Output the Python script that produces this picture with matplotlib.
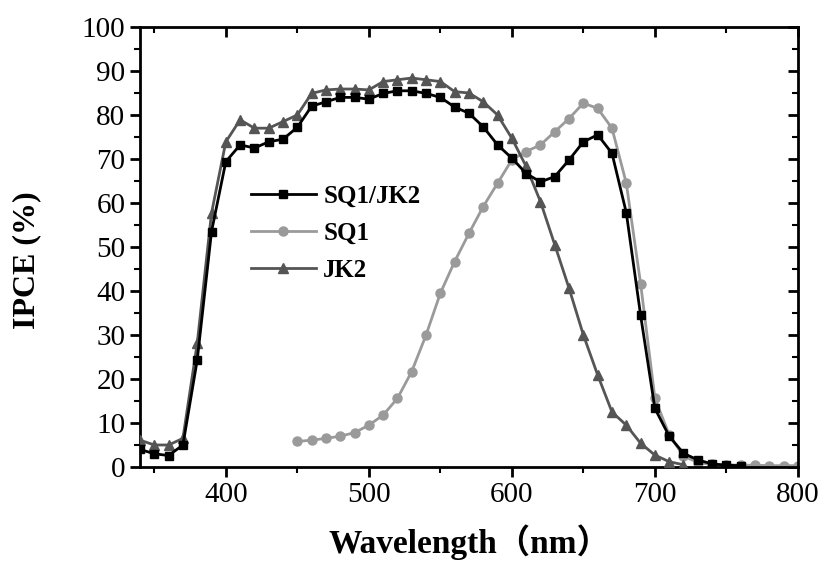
import numpy as np
import matplotlib.pyplot as plt
from matplotlib.ticker import MultipleLocator

# wavelength grids (nm)
wl_sq1jk2 = [340, 350, 360, 370, 380, 390, 400, 410, 420, 430, 440, 450, 460, 470, 480, 490, 500,
             510, 520, 530, 540, 550, 560, 570, 580, 590, 600, 610, 620, 630, 640, 650, 660, 670,
             680, 690, 700, 710, 720, 730, 740, 750, 760]
ipce_sq1jk2 = [4.0, 3.0, 2.6, 5.0, 24.3, 53.5, 69.4, 73.2, 72.5, 73.9, 74.5, 77.2, 82.0, 83.0, 84.0,
               84.0, 83.6, 84.9, 85.5, 85.5, 84.9, 84.0, 81.8, 80.4, 77.3, 73.2, 70.2, 66.7, 64.8,
               66.0, 69.8, 73.9, 75.5, 71.3, 57.8, 34.5, 13.3, 7.0, 3.1, 1.6, 0.7, 0.4, 0.3]

wl_sq1 = [450, 460, 470, 480, 490, 500, 510, 520, 530, 540, 550, 560, 570, 580, 590, 600, 610, 620,
          630, 640, 650, 660, 670, 680, 690, 700, 710, 720, 730, 740, 750, 760, 770, 780, 790, 800]
ipce_sq1 = [5.8, 6.1, 6.5, 7.0, 7.8, 9.5, 11.8, 15.6, 21.7, 30.0, 39.5, 46.7, 53.1, 59.2, 64.5, 69.8,
            71.7, 73.2, 76.2, 79.2, 82.7, 81.5, 77.0, 64.5, 41.7, 15.6, 7.3, 2.5, 1.0, 0.6, 0.5, 0.4,
            0.4, 0.3, 0.3, 0.3]

wl_jk2 = [340, 350, 360, 370, 380, 390, 400, 410, 420, 430, 440, 450, 460, 470, 480, 490, 500, 510,
          520, 530, 540, 550, 560, 570, 580, 590, 600, 610, 620, 630, 640, 650, 660, 670, 680, 690,
          700, 710, 720]
ipce_jk2 = [6.1, 5.0, 5.0, 6.5, 28.1, 57.7, 73.9, 78.9, 77.0, 77.0, 78.5, 80.0, 84.9, 85.7, 85.9,
            85.9, 85.7, 87.6, 88.0, 88.4, 88.0, 87.6, 85.3, 85.0, 83.0, 80.0, 74.7, 68.3, 60.3, 50.5,
            40.6, 30.0, 20.9, 12.5, 9.5, 5.4, 2.7, 1.2, 0.5]

plt.rcParams['font.family'] = ['Liberation Serif', 'Noto Sans CJK SC', 'DejaVu Serif']

fig = plt.figure(figsize=(8.26, 5.67), dpi=100)
ax = fig.add_axes([0.1695, 0.1764, 0.7965, 0.7760])

ax.plot(wl_sq1, ipce_sq1, color='#9a9a9a', lw=2, marker='o', ms=6.5, label='SQ1', zorder=2)
ax.plot(wl_jk2, ipce_jk2, color='#555555', lw=2, marker='^', ms=6.5, label='JK2', zorder=3)
ax.plot(wl_sq1jk2, ipce_sq1jk2, color='black', lw=2, marker='s', ms=6, label='SQ1/JK2', zorder=4)

ax.set_xlim(340, 800)
ax.set_ylim(0, 100)
ax.xaxis.set_major_locator(MultipleLocator(100))
ax.xaxis.set_minor_locator(MultipleLocator(50))
ax.yaxis.set_major_locator(MultipleLocator(10))
ax.yaxis.set_minor_locator(MultipleLocator(5))

for s in ax.spines.values():
    s.set_linewidth(2)
ax.tick_params(which='major', direction='out', length=7, width=2, labelsize=21)
ax.tick_params(which='minor', direction='out', length=4, width=1.5)

# mirrored ticks on top / right pointing inward
top = ax.secondary_xaxis('top')
top.xaxis.set_major_locator(MultipleLocator(100))
top.xaxis.set_minor_locator(MultipleLocator(50))
top.tick_params(which='major', direction='in', length=7, width=2, labeltop=False)
top.tick_params(which='minor', direction='in', length=4, width=1.5)
right = ax.secondary_yaxis('right')
right.yaxis.set_major_locator(MultipleLocator(10))
right.yaxis.set_minor_locator(MultipleLocator(5))
right.tick_params(which='major', direction='in', length=7, width=2, labelright=False)
right.tick_params(which='minor', direction='in', length=4, width=1.5)

ax.set_xlabel('Wavelength（nm）', fontsize=24, fontweight='bold')
ax.xaxis.set_label_coords(0.5, -0.13)
ax.set_ylabel('IPCE (%)', fontsize=23, fontweight='bold')
ax.yaxis.set_label_coords(-0.15, 0.47)

h, l = ax.get_legend_handles_labels()
order = [2, 0, 1]
ax.legend([h[i] for i in order], [l[i] for i in order], loc='upper left',
          bbox_to_anchor=(0.134, 0.692), frameon=False, prop={'weight': 'bold', 'size': 18},
          handlelength=2.6, handletextpad=0.3, labelspacing=0.55)

fig.savefig('out.png', dpi=100)
